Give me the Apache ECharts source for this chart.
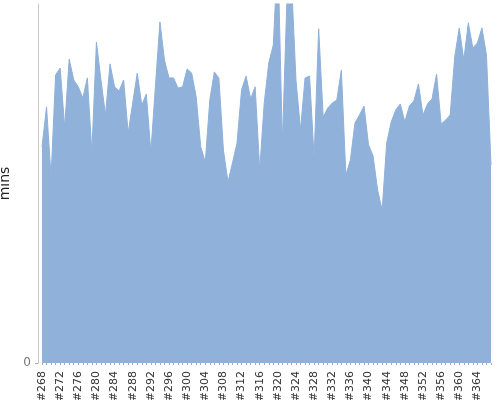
<!DOCTYPE html>
<html><head><meta charset="utf-8">
<script src="https://cdn.jsdelivr.net/npm/echarts@6/dist/echarts.min.js"></script>
<style>html,body{margin:0;padding:0;background:#fff}#c{width:500px;height:400px}</style>
</head><body><div id="c"></div>
<script>
var categories = ['#268','#269','#270','#271','#272','#273','#274','#275','#276','#277',
'#278','#279','#280','#281','#282','#283','#284','#285','#286','#287',
'#288','#289','#290','#291','#292','#293','#294','#295','#296','#297',
'#298','#299','#300','#301','#302','#303','#304','#305','#306','#307',
'#308','#309','#310','#311','#312','#313','#314','#315','#316','#317',
'#318','#319','#320','#321','#322','#323','#324','#325','#326','#327',
'#328','#329','#330','#331','#332','#333','#334','#335','#336','#337',
'#338','#339','#340','#341','#342','#343','#344','#345','#346','#347',
'#348','#349','#350','#351','#352','#353','#354','#355','#356','#357',
'#358','#359','#360','#361','#362','#363','#364','#365','#366','#367'];
var mins = [72.2,85.6,62.2,96.3,98.6,78.9,101.6,94.6,92.3,88.6,
95.3,70.5,107.3,94.6,82.9,100.0,92.3,90.9,94.6,76.9,
86.9,96.9,86.2,89.9,70.5,92.3,114.0,101.3,95.3,95.3,
91.9,92.3,98.3,96.9,88.9,72.2,67.2,87.9,97.3,95.3,
71.2,60.5,66.9,73.5,91.3,95.9,88.3,92.3,64.5,86.9,
100.3,106.3,138.1,73.5,121.3,128.0,94.6,77.9,95.3,95.9,
68.5,111.7,82.2,85.2,86.9,87.9,97.9,62.8,67.9,80.2,
82.9,85.9,72.9,69.2,57.8,51.1,73.5,80.6,84.6,86.6,
80.6,85.9,87.6,93.3,82.9,86.6,88.3,96.6,79.9,81.2,
82.9,102.3,112.0,101.3,113.7,105.3,107.0,112.0,103.0,66.2];
var yMax = 120;
var yName = 'mins';

var chart = echarts.init(document.getElementById('c'), null, {renderer:'canvas'});
chart.setOption({
  animation: false,
  textStyle: {fontFamily: 'DejaVu Sans, sans-serif'},
  grid: {left: 42, right: 9, top: 4, bottom: 37, containLabel: false, outerBoundsMode: 'none'},
  xAxis: {
    type: 'category', data: categories, boundaryGap: false,
    axisLine: {show: false},
    axisTick: {show: true, interval: 0, length: 2, lineStyle: {color: '#aaaaaa'}},
    axisLabel: {interval: 3, rotate: 90, fontSize: 11, color: '#333', margin: 8}
  },
  yAxis: {
    type: 'value', min: 0, max: yMax, interval: yMax, offset: 4,
    name: yName, nameLocation: 'middle', nameGap: 21, nameRotate: 90,
    nameTextStyle: {fontSize: 14, color: '#222'},
    axisLine: {show: true, lineStyle: {color: '#c8c8c8'}},
    axisTick: {show: true, length: 3, lineStyle: {color: '#aaaaaa'}},
    axisLabel: {showMaxLabel: false, fontSize: 12, color: '#777', margin: 7},
    splitLine: {show: false}
  },
  series: [{
    type: 'line', data: mins, showSymbol: false, symbol: 'none',
    lineStyle: {width: 1, color: '#8fb1da'},
    areaStyle: {color: '#8fb1da', opacity: 1},
    clip: true
  }]
});
</script></body></html>
